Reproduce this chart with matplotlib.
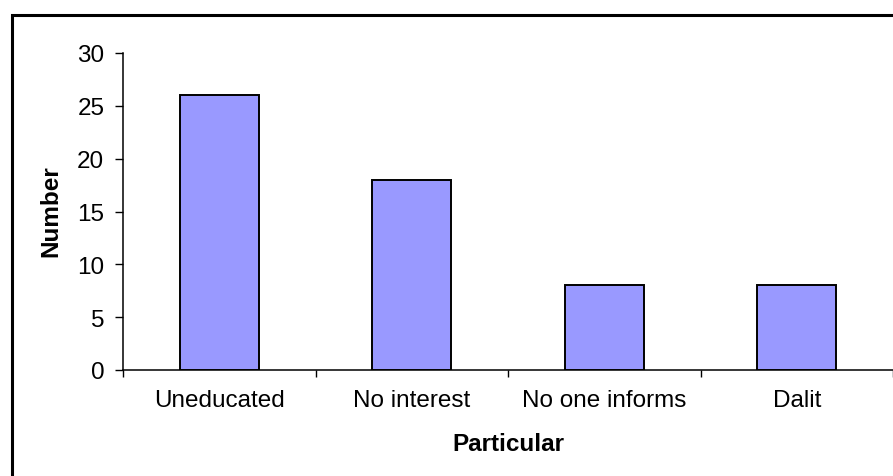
import numpy as np
import matplotlib
matplotlib.use("Agg")
import matplotlib.pyplot as plt
from matplotlib.patches import Rectangle

# reasons given, with the number of respondents for each
categories = ["Uneducated", "No interest", "No one informs", "Dalit"]
counts = [26, 18, 8, 8]
y_ticks = [0, 5, 10, 15, 20, 25, 30]

plt.rcParams["font.family"] = ["Liberation Sans", "DejaVu Sans"]
FS = 17.5

fig = plt.figure(figsize=(8.93, 4.77), dpi=100)

# chart-area border (runs off the right and bottom of the canvas)
fig.patches.append(Rectangle((12 / 893, -0.1), 1.2, (477 - 16) / 477 + 0.1,
                             transform=fig.transFigure, fill=False,
                             edgecolor="black", linewidth=2.2, zorder=0))

ax = fig.add_axes([123 / 893, 106 / 477, 770 / 893, 317 / 477])

x = np.arange(len(categories))
ax.bar(x, counts, width=0.41, color="#9999FF", edgecolor="black",
       linewidth=1.4, zorder=3)

ax.set_xlim(-0.5, len(categories) - 0.5)
ax.set_ylim(0, 30)
ax.set_yticks(y_ticks)

# tick marks sit between categories, names go under the bar centres
ax.set_xticks(np.arange(len(categories) + 1) - 0.5)
ax.set_xticklabels([])
ax.set_xticks(x, minor=True)
ax.set_xticklabels(categories, minor=True)

ax.tick_params(axis="x", which="major", direction="out", length=5, width=1,
               color="black")
ax.tick_params(axis="x", which="minor", length=0, pad=13.5, labelsize=FS)
ax.tick_params(axis="y", direction="out", length=5.5, width=1, pad=8,
               labelsize=FS, color="black")

for side in ("top", "right"):
    ax.spines[side].set_visible(False)
for side in ("left", "bottom"):
    ax.spines[side].set_linewidth(1.1)
    ax.spines[side].set_color("black")

ax.set_xlabel("Particular", fontsize=FS, fontweight="bold")
ax.set_ylabel("Number", fontsize=FS, fontweight="bold")
ax.xaxis.label.set_va("center")
ax.yaxis.label.set_va("center")
ax.xaxis.set_label_coords(0.5, -0.233)
ax.yaxis.set_label_coords(-0.094, 0.505)

fig.savefig("out.png", dpi=100)
